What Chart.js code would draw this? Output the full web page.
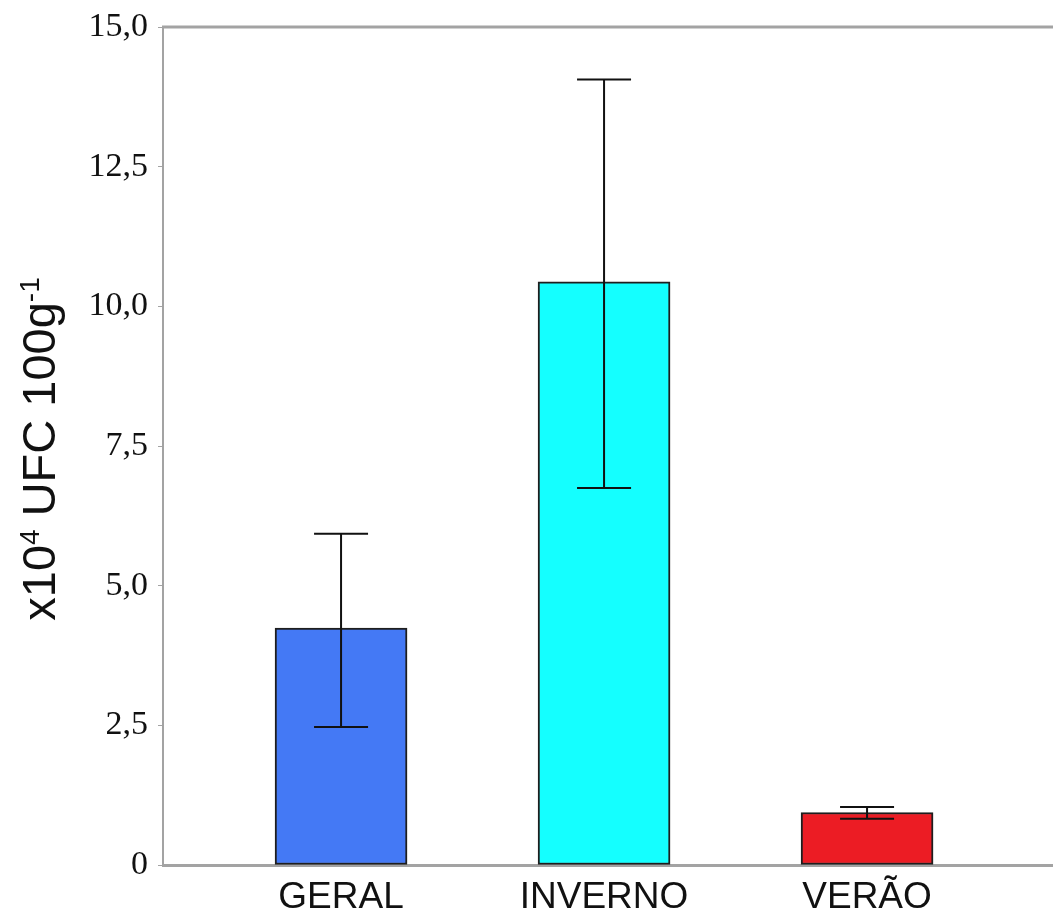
<!DOCTYPE html>
<html>
<head>
<meta charset="utf-8">
<script src="https://cdn.jsdelivr.net/npm/chart.js@4.4.1/dist/chart.umd.min.js"></script>
<style>
  html, body { margin: 0; padding: 0; background: #ffffff; }
  #wrap { width: 1053px; height: 910px; position: relative; }
</style>
</head>
<body>
<div id="wrap"><canvas id="c"></canvas></div>
<script>
// Contagem média por grupo (x10^4 UFC 100 g^-1) com limites do intervalo
const categories = ['GERAL', 'INVERNO', 'VERÃO'];
const means      = [4.24, 10.44, 0.94];
const errUpper   = [5.93, 14.06, 1.04];
const errLower   = [2.47, 6.75, 0.83];
const barColors  = ['#4479f5', '#14ffff', '#ec1c24'];
const yTicks     = [0, 2.5, 5, 7.5, 10, 12.5, 15];

// Eixo vertical: partes do título (texto normal / sobrescrito)
const yTitleParts = [
  { t: 'x10', sup: false },
  { t: '4', sup: true },
  { t: ' UFC 100g', sup: false },
  { t: '-1', sup: true }
];

const AXIS_GREY = '#a3a3a3';

const errorBars = {
  id: 'errorBars',
  afterDatasetsDraw(chart) {
    const { ctx, scales: { x, y } } = chart;
    ctx.save();
    ctx.strokeStyle = '#111';
    ctx.lineWidth = 2;
    const half = 27;
    categories.forEach((_, i) => {
      const cx = x.getPixelForValue(i);
      const yt = y.getPixelForValue(errUpper[i]);
      const yb = y.getPixelForValue(errLower[i]);
      ctx.beginPath();
      ctx.moveTo(cx, yt); ctx.lineTo(cx, yb);
      ctx.moveTo(cx - half, yt); ctx.lineTo(cx + half, yt);
      ctx.moveTo(cx - half, yb); ctx.lineTo(cx + half, yb);
      ctx.stroke();
    });
    ctx.restore();
  }
};

const yTitle = {
  id: 'yTitle',
  afterDraw(chart) {
    const { ctx } = chart;
    const big = 47, small = 28;
    ctx.save();
    ctx.fillStyle = '#111';
    ctx.textBaseline = 'alphabetic';
    ctx.textAlign = 'left';
    let total = 0;
    yTitleParts.forEach(p => {
      ctx.font = (p.sup ? small : big) + 'px "Liberation Sans", Arial, sans-serif';
      p.w = ctx.measureText(p.t).width;
      total += p.w;
    });
    ctx.translate(55, 449);
    ctx.rotate(-Math.PI / 2);
    let px = -total / 2;
    yTitleParts.forEach(p => {
      ctx.font = (p.sup ? small : big) + 'px "Liberation Sans", Arial, sans-serif';
      ctx.fillText(p.t, px, p.sup ? -16 : 0);
      px += p.w;
    });
    ctx.restore();
  }
};

const topFrame = {
  id: 'topFrame',
  afterDraw(chart) {
    const { ctx, chartArea: a } = chart;
    ctx.save();
    ctx.strokeStyle = AXIS_GREY;
    ctx.lineWidth = 3;
    ctx.beginPath();
    ctx.moveTo(a.left - 1, a.top);
    ctx.lineTo(a.right, a.top);
    ctx.stroke();
    ctx.restore();
  }
};

new Chart(document.getElementById('c'), {
  type: 'bar',
  data: {
    datasets: [{
      data: means.map((v, i) => ({ x: i, y: v })),
      backgroundColor: barColors,
      borderColor: '#1e1e1e',
      borderWidth: 2,
      borderSkipped: false,
      barThickness: 132
    }]
  },
  options: {
    responsive: true,
    maintainAspectRatio: false,
    animation: false,
    layout: { padding: { top: 27, right: 0, bottom: 0, left: 0 } },
    plugins: { legend: { display: false }, tooltip: { enabled: false } },
    scales: {
      x: {
        type: 'linear',
        offset: false,
        min: -0.677,
        max: 2.707,
        afterBuildTicks(scale) {
          scale.ticks = categories.map((_, i) => ({ value: i }));
        },
        afterFit(scale) {
          scale.height = 45;
          scale.paddingLeft = 0;
          scale.paddingRight = 0;
        },
        ticks: {
          autoSkip: false,
          maxRotation: 0,
          padding: 11,
          color: '#111',
          font: { family: '"Liberation Sans", Arial, sans-serif', size: 37 },
          callback: v => categories[v]
        },
        grid: { display: false, drawTicks: false },
        border: { display: true, color: AXIS_GREY, width: 3 }
      },
      y: {
        min: 0,
        max: 15,
        afterBuildTicks(scale) {
          scale.ticks = yTicks.map(v => ({ value: v }));
        },
        afterFit(scale) {
          scale.width = 163;
          scale.paddingTop = 0;
          scale.paddingBottom = 0;
        },
        ticks: {
          padding: 10,
          color: '#111',
          font: { family: '"Liberation Serif", "Times New Roman", serif', size: 34 },
          callback: v => v === 0 ? '0' : v.toFixed(1).replace('.', ',')
        },
        grid: {
          drawOnChartArea: false,
          drawTicks: true,
          tickLength: 5,
          tickColor: AXIS_GREY,
          tickWidth: 1
        },
        border: { display: true, color: AXIS_GREY, width: 2 }
      }
    }
  },
  plugins: [errorBars, yTitle, topFrame]
});
</script>
</body>
</html>
